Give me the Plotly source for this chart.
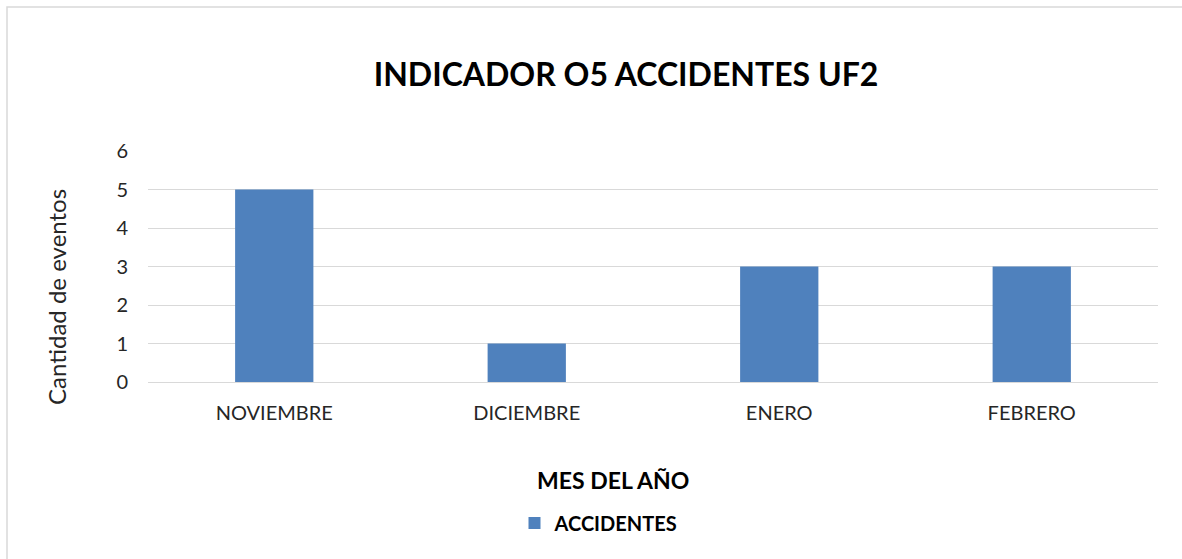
import plotly.graph_objects as go

# Monthly accident counts
meses = ["NOVIEMBRE", "DICIEMBRE", "ENERO", "FEBRERO"]
accidentes = [5, 1, 3, 3]
y_ticks = [0, 1, 2, 3, 4, 5, 6]

W, H = 1182, 559
L, R, T, B = 148, 24, 151, 177
plot_w = W - L - R
plot_h = H - T - B


def px_x(x):
    return (x - L) / plot_w


def px_y(y):
    return (H - B - y) / plot_h


FONT = "Lato"
BAR = "#4F81BD"
GRID = "#D9D9D9"

fig = go.Figure()
fig.add_trace(go.Bar(
    x=meses,
    y=accidentes,
    name="<b>ACCIDENTES</b>",
    marker=dict(color=BAR, line=dict(width=0)),
))

fig.update_layout(
    width=W,
    height=H,
    margin=dict(l=L, r=R, t=T, b=B),
    paper_bgcolor="white",
    plot_bgcolor="white",
    bargap=0.69,
    font=dict(family=FONT, color="#262626"),
    title=dict(
        text="<b>INDICADOR O5 ACCIDENTES UF2</b>",
        x=626 / W, xanchor="center", xref="container",
        y=1 - 75 / H, yanchor="middle", yref="container",
        font=dict(size=32, color="#000000", family=FONT),
    ),
    xaxis=dict(
        showgrid=False,
        showline=False,
        ticks="",
        ticklabelstandoff=17,
        tickfont=dict(size=20, color="#262626"),
    ),
    yaxis=dict(
        range=[0, 6],
        tickvals=y_ticks,
        showgrid=True,
        gridcolor=GRID,
        gridwidth=1,
        zeroline=True,
        zerolinecolor=GRID,
        zerolinewidth=1,
        showline=False,
        ticks="",
        ticklabelstandoff=19,
        tickfont=dict(size=20, color="#262626"),
    ),
    showlegend=True,
    legend=dict(
        orientation="h",
        x=px_x(599), xanchor="center",
        y=px_y(523), yanchor="middle",
        font=dict(size=20, color="#000000", family=FONT),
        itemwidth=30,
    ),
    annotations=[
        dict(
            text="<b>MES DEL AÑO</b>",
            xref="paper", yref="paper",
            x=px_x(613), y=px_y(480),
            xanchor="center", yanchor="middle",
            showarrow=False,
            font=dict(size=23, color="#000000", family=FONT),
        ),
        dict(
            text="Cantidad de eventos",
            xref="paper", yref="paper",
            x=px_x(56), y=px_y(297),
            xanchor="center", yanchor="middle",
            textangle=-90,
            showarrow=False,
            font=dict(size=24, color="#262626", family=FONT),
        ),
    ],
    shapes=[
        dict(
            type="rect", xref="paper", yref="paper",
            x0=px_x(7), x1=px_x(1200), y0=px_y(7), y1=px_y(580),
            line=dict(color=GRID, width=1.5),
            fillcolor="rgba(0,0,0,0)",
            layer="below",
        )
    ],
)

fig.write_html("out.html")
